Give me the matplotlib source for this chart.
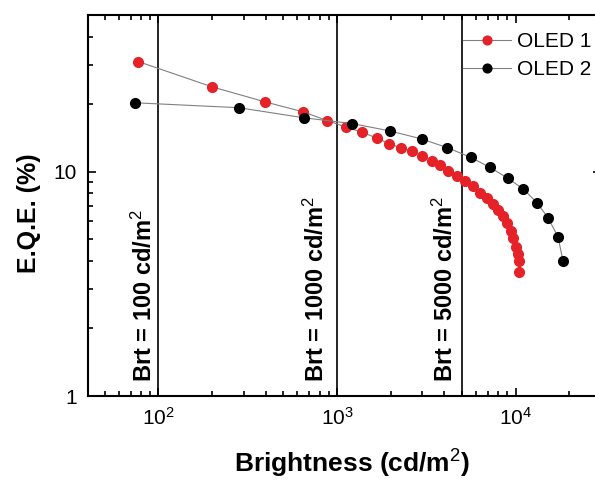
import matplotlib
matplotlib.use("Agg")
import matplotlib.pyplot as plt
from matplotlib.ticker import LogLocator, FixedLocator, FixedFormatter, NullFormatter

plt.rcParams['font.family'] = ['Liberation Sans', 'DejaVu Sans']
plt.rcParams['mathtext.fontset'] = 'custom'
plt.rcParams['mathtext.rm'] = 'Liberation Sans'
plt.rcParams['mathtext.bf'] = 'Liberation Sans:bold'
plt.rcParams['mathtext.it'] = 'Liberation Sans:italic'

# OLED 1 (red)
oled1_brt = [77, 200, 395, 645, 883, 1127, 1386, 1682, 1963, 2275, 2621, 2982,
             3392, 3776, 4203, 4684, 5213, 5755, 6324, 6898, 7454, 8010, 8546,
             8996, 9398, 9720, 10060, 10370, 10460, 10460]
oled1_eqe = [31.0, 23.9, 20.5, 18.5, 16.9, 15.8, 15.0, 14.1, 13.3, 12.8, 12.4,
             11.8, 11.2, 10.7, 10.1, 9.6, 9.14, 8.6, 8.08, 7.63, 7.17, 6.77,
             6.32, 5.9, 5.47, 5.06, 4.64, 4.3, 3.98, 3.59]

# OLED 2 (black)
oled2_brt = [74, 282, 653, 1218, 1982, 2982, 4150, 5610, 7194, 9036, 11060,
             13200, 15210, 17300, 18450]
oled2_eqe = [20.3, 19.3, 17.4, 16.4, 15.2, 14.0, 12.8, 11.6, 10.45, 9.37, 8.37,
             7.27, 6.23, 5.13, 4.0]

ref_brt = [100, 1000, 5000]
ref_labels = ["Brt = 100 cd/m$^2$", "Brt = 1000 cd/m$^2$", "Brt = 5000 cd/m$^2$"]
ref_offsets = [-1, -6, -3]

fig = plt.figure(figsize=(5.95, 4.8), dpi=100)
ax = fig.add_axes([88 / 595, 84 / 480, 512.7 / 595, 381 / 480])

ax.plot(oled1_brt, oled1_eqe, '-', color='#808080', lw=0.8, zorder=2,
        marker='o', ms=7, mfc='#E52228', mec='#E52228', label='OLED 1')
ax.plot(oled2_brt, oled2_eqe, '-', color='#808080', lw=0.8, zorder=2,
        marker='o', ms=7, mfc='black', mec='black', label='OLED 2')

for b, lab, off in zip(ref_brt, ref_labels, ref_offsets):
    ax.axvline(b, color='black', lw=1.2, zorder=1)
    ax.annotate(lab, xy=(b, 0.037), xycoords=('data', 'axes fraction'),
                xytext=(off, 0), textcoords='offset points',
                rotation=90, ha='right', va='bottom',
                fontsize=17, fontweight='bold')

ax.set_xscale('log')
ax.set_yscale('log')
ax.set_xlim(40.3, 30000)
ax.set_ylim(1, 50)

ax.xaxis.set_major_locator(FixedLocator([100, 1000, 10000]))
ax.xaxis.set_major_formatter(FixedFormatter(['10$^2$', '10$^3$', '10$^4$']))
ax.xaxis.set_minor_locator(LogLocator(base=10, subs=range(2, 10)))
ax.xaxis.set_minor_formatter(NullFormatter())
ax.yaxis.set_major_locator(FixedLocator([1, 10]))
ax.yaxis.set_major_formatter(FixedFormatter(['1', '10']))
ax.yaxis.set_minor_locator(LogLocator(base=10, subs=range(2, 10)))
ax.yaxis.set_minor_formatter(NullFormatter())

ax.tick_params(which='both', direction='in', top=True, right=True, width=1.2)
ax.tick_params(which='major', length=6, labelsize=15, pad=8)
ax.tick_params(which='minor', length=3.5)
for sp in ax.spines.values():
    sp.set_linewidth(1.5)

ax.set_xlabel('Brightness (cd/m$^2$)', fontsize=19, fontweight='bold', labelpad=13.5)
ax.xaxis.label.set_x(0.515)
ax.set_ylabel('E.Q.E. (%)', fontsize=18, fontweight='bold', labelpad=9)
ax.yaxis.label.set_y(0.48)

ax.legend(loc='upper left', bbox_to_anchor=(0.731, 0.955), frameon=False,
          fontsize=15, handlelength=2.3, handletextpad=0.3, labelspacing=0.42,
          borderpad=0, borderaxespad=0, markerscale=0.9)

fig.savefig('out.png', dpi=100)
